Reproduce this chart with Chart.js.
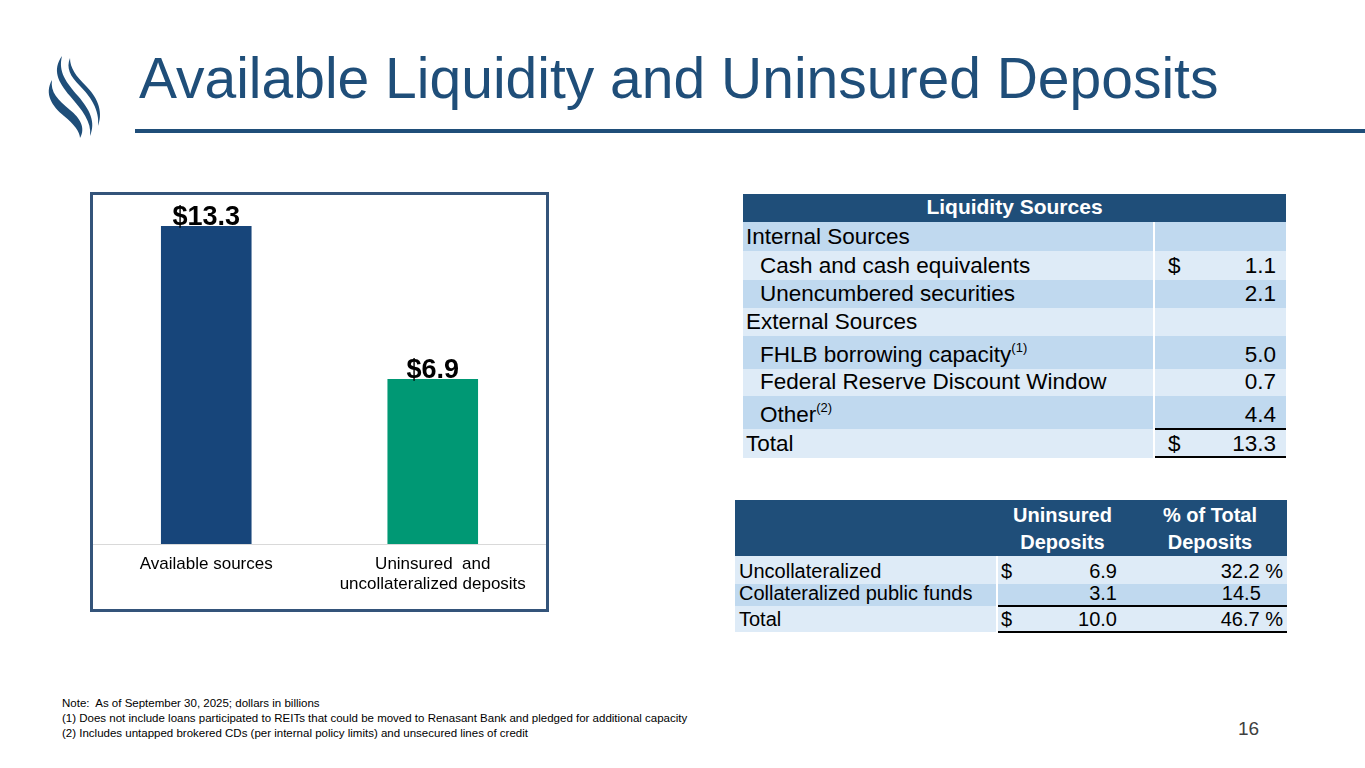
<!DOCTYPE html>
<html>
<head>
<meta charset="utf-8">
<script src="https://cdn.jsdelivr.net/npm/chart.js@4.4.0/dist/chart.umd.min.js"></script>
<style>
  body { margin:0; width:1365px; height:768px; background:#fff; font-family:Arial, "Liberation Sans", sans-serif; position:relative; overflow:hidden; }
  .title { position:absolute; left:139px; top:45px; font-size:57px; color:#1f4e79; white-space:nowrap; }
  .rule { position:absolute; left:135px; top:129px; width:1230px; height:4px; background:#1f4e79; }
  .box { position:absolute; left:90px; top:192px; width:453px; height:414px; border:3px solid #34547a; }
  #bars { position:absolute; left:93px; top:195px; }
  .t { position:absolute; font-size:22.5px; color:#000; white-space:nowrap; }
  .row { position:absolute; }
  .note { position:absolute; left:62px; top:696px; font-size:11.5px; line-height:15px; color:#000; }
  .pg { position:absolute; left:1238px; top:718px; font-size:19px; color:#404040; }
  sup { font-size:13px; vertical-align:10px; line-height:0; }
</style>
</head>
<body>
<svg style="position:absolute;left:40px;top:52px" width="70" height="90" viewBox="0 0 70 90">
  <path d="M22 4 C12 18 18 30 30 44 C42 58 52 70 50 84 C56 70 50 58 38 44 C26 30 18 20 22 4 Z" fill="#1f4e79"/>
  <path d="M12 28 C4 42 12 54 24 64 C34 72 40 80 40 86 C46 76 40 66 30 58 C18 48 10 40 12 28 Z" fill="#1f4e79"/>
  <path d="M30 6 C26 16 30 24 40 34 C50 44 60 58 58 74 C64 58 56 44 46 34 C36 24 30 16 30 6 Z" fill="#1f4e79"/>
</svg>
<div class="title">Available Liquidity and Uninsured Deposits</div>
<div class="rule"></div>

<div class="box"></div>
<canvas id="bars" width="453" height="414"></canvas>

<div id="tables"></div>

<div class="note">Note:&nbsp; As of September 30, 2025; dollars in billions<br>(1) Does not include loans participated to REITs that could be moved to Renasant Bank and pledged for additional capacity<br>(2) Includes untapped brokered CDs (per internal policy limits) and unsecured lines of credit</div>
<div class="pg">16</div>

<script>
// chart data
var categories = ['Available sources', ['Uninsured  and', 'uncollateralized deposits']];
var amounts = [13.3, 6.9];
var barColors = ['#17457a', '#009874'];

// liquidity sources table
var liqLabels = ['Internal Sources', 'Cash and cash equivalents', 'Unencumbered securities', 'External Sources',
                 'FHLB borrowing capacity<sup>(1)</sup>', 'Federal Reserve Discount Window', 'Other<sup>(2)</sup>', 'Total'];
var liqValues = ['', '1.1', '2.1', '', '5.0', '0.7', '4.4', '13.3'];
var liqDollar = [false, true, false, false, false, false, false, true];
var liqIndent = [false, true, true, false, true, true, true, false];

// uninsured deposits table
var depLabels = ['Uncollateralized', 'Collateralized public funds', 'Total'];
var depValues = ['6.9', '3.1', '10.0'];
var depPct = ['32.2', '14.5', '46.7'];
var depDollar = [true, false, true];

var DARK = '#1f4e79', LIGHT = '#deebf7', MID = '#c0d9ef';
var html = '';
function rect(x, y, w, h, c) {
  return '<div class="row" style="left:' + x + 'px;top:' + y + 'px;width:' + w + 'px;height:' + h + 'px;background:' + c + '"></div>';
}
function txt(x, y, s, extra) {
  return '<div class="t" style="left:' + x + 'px;top:' + y + 'px;' + (extra || '') + '">' + s + '</div>';
}

// table 1
html += rect(743, 194, 543, 28, DARK);
html += txt(743, 195, '<b>Liquidity Sources</b>', 'color:#fff;font-size:21px;width:543px;text-align:center');
var tops = [222, 251, 280, 308, 336, 369, 396, 429, 458];
for (var i = 0; i < liqLabels.length; i++) {
  var y = tops[i], h = tops[i + 1] - y;
  var c = (i % 2 === 0) ? MID : LIGHT;
  if (i === 7) c = LIGHT;
  html += rect(743, y, 410, h, c);
  html += rect(1155, y, 131, h, c);
  var ty = y + h - 27;
  html += txt(liqIndent[i] ? 760 : 746, ty, liqLabels[i]);
  if (liqDollar[i]) html += txt(1168, ty, '$');
  if (liqValues[i]) html += txt(1160, ty, liqValues[i], 'width:116px;text-align:right');
}
html += rect(1155, 428, 131, 2, '#000');
html += rect(1155, 456, 131, 2, '#000');

// table 2
html += rect(735, 500, 552, 56, DARK);
html += txt(997, 504, '<b>Uninsured</b>', 'color:#fff;font-size:20px;width:131px;text-align:center');
html += txt(997, 531, '<b>Deposits</b>', 'color:#fff;font-size:20px;width:131px;text-align:center');
html += txt(1130, 504, '<b>% of Total</b>', 'color:#fff;font-size:20px;width:160px;text-align:center');
html += txt(1130, 531, '<b>Deposits</b>', 'color:#fff;font-size:20px;width:160px;text-align:center');
var tops2 = [556, 584, 606, 632];
for (var j = 0; j < depLabels.length; j++) {
  var y2 = tops2[j], h2 = tops2[j + 1] - y2;
  var c2 = (j === 1) ? MID : LIGHT;
  html += rect(735, y2, 261, h2, c2);
  html += rect(998, y2, 289, h2, c2);
  var ty2 = y2 + h2 - 24;
  html += txt(739, ty2, depLabels[j], 'font-size:20px');
  if (depDollar[j]) html += txt(1001, ty2, '$', 'font-size:20px');
  html += txt(1000, ty2, depValues[j], 'font-size:20px;width:117px;text-align:right');
  html += txt(1130, ty2, depPct[j] + (depDollar[j] ? ' %' : '&nbsp;&nbsp;&nbsp;&nbsp;'), 'font-size:20px;width:153px;text-align:right');
}
html += rect(998, 605, 289, 2, '#000');
html += rect(998, 631, 289, 2, '#000');
document.getElementById('tables').innerHTML = html;

// value labels over bars
var valueLabels = {
  id: 'valueLabels',
  afterDatasetsDraw: function (chart) {
    var ctx = chart.ctx;
    var meta = chart.getDatasetMeta(0);
    ctx.save();
    ctx.font = 'bold 27px Arial, "Liberation Sans"';
    ctx.fillStyle = '#000';
    ctx.textAlign = 'center';
    ctx.textBaseline = 'alphabetic';
    meta.data.forEach(function (bar, i) {
      ctx.fillText('$' + amounts[i].toFixed(1), bar.x, bar.y - 1);
    });
    ctx.restore();
  }
};

var ctx = document.getElementById('bars').getContext('2d');
var myChart = new Chart(ctx, {
  type: 'bar',
  data: {
    labels: categories,
    datasets: [{
      data: amounts,
      backgroundColor: barColors,
      borderWidth: 0,
      barPercentage: 0.4,
      categoryPercentage: 1
    }]
  },
  options: {
    responsive: false,
    animation: false,
    layout: { padding: 0 },
    plugins: { legend: { display: false }, tooltip: { enabled: false } },
    scales: {
      x: {
        grid: { display: false, drawTicks: false },
        border: { color: '#d9d9d9', width: 1 },
        ticks: { color: '#000', font: { size: 17, family: 'Arial, "Liberation Sans"', lineHeight: 1.15 }, padding: 11, maxRotation: 0 },
        afterFit: function (scale) { scale.height = 65; }
      },
      y: { display: false, min: 0, max: 14.6 }
    }
  },
  plugins: [valueLabels]
});
</script>
</body>
</html>
